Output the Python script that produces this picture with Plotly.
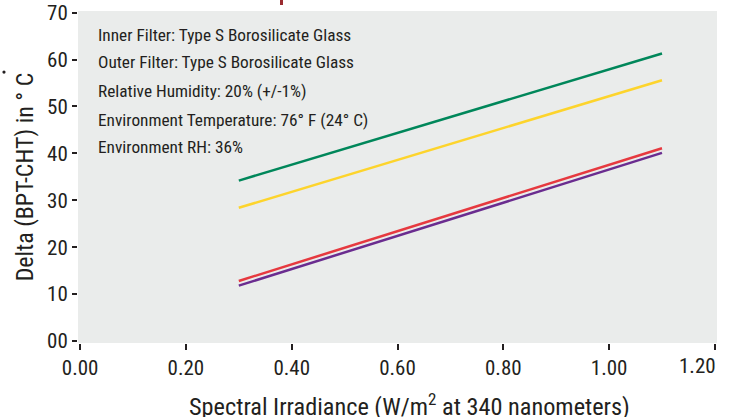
import plotly.graph_objects as go

# ---- data ----
irradiance = [0.30, 1.10]
series_names = ["Series 1", "Series 2", "Series 3", "Series 4"]
green_vals = [34.2, 61.3]
yellow_vals = [28.4, 55.6]
red_vals = [12.8, 41.1]
purple_vals = [11.8, 40.1]
x_ticks = [0.0, 0.2, 0.4, 0.6, 0.8, 1.0, 1.2]
x_tick_labels = ["0.00", "0.20", "0.40", "0.60", "0.80", "1.00", "1.20"]
y_ticks = [0, 10, 20, 30, 40, 50, 60, 70]
x_title = "Spectral Irradiance (W/m<sup>2</sup> at 340 nanometers)"
y_title = "Delta (BPT-CHT) in ° C"
notes = [
    "Inner Filter: Type S Borosilicate Glass",
    "Outer Filter: Type S Borosilicate Glass",
    "Relative Humidity: 20% (+/-1%)",
    "Environment Temperature: 76° F (24° C)",
    "Environment RH: 36%",
]

FONT = "Roboto Condensed, Liberation Sans Narrow, DejaVu Sans Condensed, sans-serif"
TXT = "#231f20"

series = [
    (green_vals, "#00875a"),
    (yellow_vals, "#fdd42c"),
    (red_vals, "#e6393f"),
    (purple_vals, "#6a2c8f"),
]

fig = go.Figure()
for (vals, col), name in zip(series, series_names):
    fig.add_trace(go.Scatter(x=irradiance, y=vals, mode="lines", name=name,
                             line=dict(color=col, width=2.5), showlegend=False))

note_y = [0.9286, 0.847, 0.7605, 0.6726, 0.5913]
for txt, yy in zip(notes, note_y):
    fig.add_annotation(text=txt, xref="paper", yref="paper", x=0.028, y=yy,
                       xanchor="left", yanchor="middle", showarrow=False,
                       font=dict(family=FONT, size=17.3, color=TXT))

# last x tick label sits right-aligned on its tick (as in the reference)
fig.add_annotation(text=x_tick_labels[-1], xref="x", yref="paper", x=x_ticks[-1], y=-0.069,
                   xanchor="right", yanchor="middle", showarrow=False, xshift=3,
                   font=dict(family=FONT, size=21, color=TXT))

# x-axis title (placed as an annotation to match the reference's offset)
fig.add_annotation(text=x_title, xref="paper", yref="paper", x=0.518, y=-0.186,
                   xanchor="center", yanchor="middle", showarrow=False,
                   font=dict(family=FONT, size=24.3, color=TXT))

# small stray marks visible at the reference's edges
fig.add_shape(type="line", xref="paper", yref="paper", x0=0.3185, x1=0.3185,
              y0=1.018, y1=1.04, line=dict(color="#9b2b30", width=3))
fig.add_shape(type="circle", xref="paper", yref="paper",
              xsizemode="pixel", ysizemode="pixel", xanchor=-0.1158, yanchor=0.816,
              x0=-1.6, x1=1.6, y0=-1.6, y1=1.6,
              fillcolor=TXT, line=dict(width=0))

fig.update_layout(
    width=731, height=417,
    margin=dict(l=78, r=14, t=11, b=74),
    paper_bgcolor="white",
    plot_bgcolor="#eaeceb",
    font=dict(family=FONT, color=TXT),
    xaxis=dict(
        range=[-0.004, 1.204], tickvals=x_ticks,
        ticktext=x_tick_labels[:-1] + [""],
        automargin=False,
        showgrid=False, zeroline=False, showline=False,
        ticks="outside", ticklen=6, tickwidth=2, tickcolor=TXT,
        ticklabeloverflow="allow",
        tickfont=dict(family=FONT, size=21, color=TXT),
    ),
    yaxis=dict(
        range=[-0.43, 70.36], tickvals=y_ticks, tickformat="02d",
        automargin=False,
        showgrid=False, zeroline=False, showline=False,
        ticks="outside", ticklen=5, tickwidth=2, tickcolor=TXT,
        ticklabeloverflow="allow",
        tickfont=dict(family=FONT, size=21, color=TXT),
        title=dict(text=y_title,
                   font=dict(family=FONT, size=24, color=TXT), standoff=6),
    ),
)

# remove the browser's default page margin so the figure fills the window exactly
fig.write_html("out.html", config={"displayModeBar": False},
               post_script="document.body.style.margin='0px';")
